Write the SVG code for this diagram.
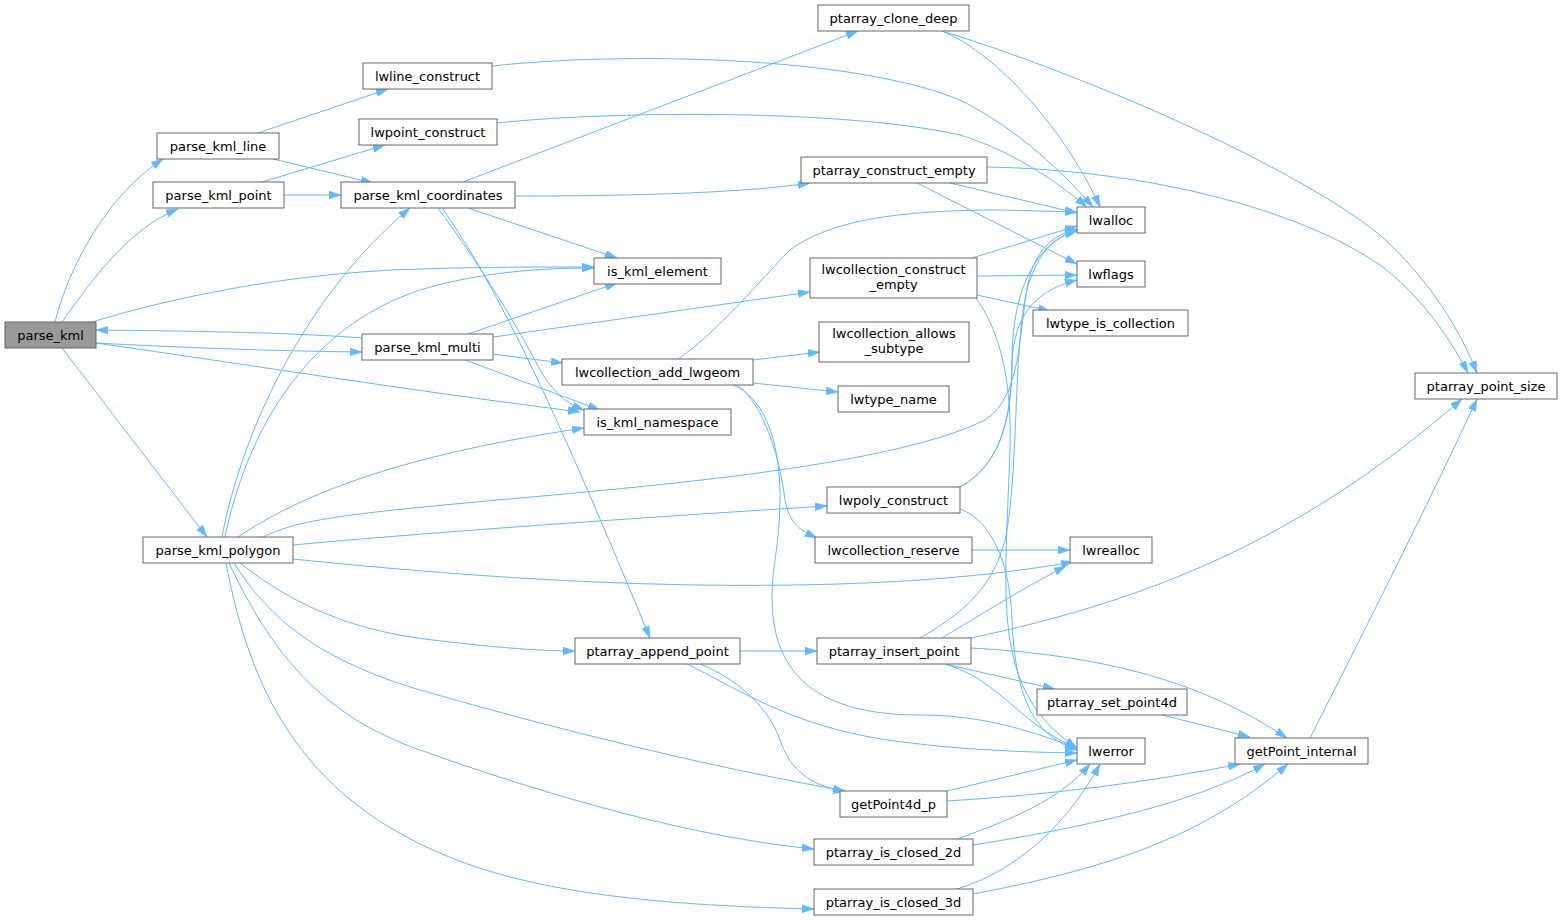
<svg xmlns="http://www.w3.org/2000/svg" width="1567" height="920" viewBox="0 0 1567 920">
<style>
.n rect{fill:#fff;stroke:#666;stroke-width:1}
.n.root rect{fill:#999}
.n text{font-family:"DejaVu Sans","Liberation Sans",sans-serif;font-size:13px;fill:#000;text-anchor:middle}
.e path{fill:none;stroke:#63b8ff;stroke-width:1;marker-end:url(#a)}
</style>
<defs>
<marker id="a" viewBox="0 0 12 8" refX="12" refY="4" markerWidth="12" markerHeight="8" markerUnits="userSpaceOnUse" orient="auto">
<path d="M0,0 L12,4 L0,8 z" fill="#63b8ff" stroke="#63b8ff" stroke-width="0.5"/>
</marker>
</defs>
<rect width="1567" height="920" fill="#fff"/>
<g id="edges" class="e">
<path d="M55,322 C65,280 100,200 163,159"/>
<path d="M62,322 C85,290 125,230 178,209"/>
<path d="M92,322 C180,295 300,272 420,269 C480,267 540,267 594,267"/>
<path d="M96,343 C150,346 260,351 362,352"/>
<path d="M96,343 C250,365 420,392 580,412"/>
<path d="M62,348 L207,537"/>
<path d="M362,338 C300,333 200,331 96,330"/>
<path d="M258,133 L388,89"/>
<path d="M273,159 L373,183"/>
<path d="M262,182 L385,145"/>
<path d="M284,195 L341,195"/>
<path d="M492,66 C620,52 850,55 960,100 C1020,130 1065,175 1093,207"/>
<path d="M497,123 C620,110 850,110 960,135 C1010,150 1055,180 1087,207"/>
<path d="M463,182 L858,31"/>
<path d="M515,196 C650,196 750,192 810,183"/>
<path d="M468,208 L617,258"/>
<path d="M438,208 C480,265 520,330 540,370 C555,395 568,404 584,410"/>
<path d="M442,208 C500,290 560,420 650,638"/>
<path d="M468,334 L617,283"/>
<path d="M493,337 L810,292"/>
<path d="M492,354 L563,363"/>
<path d="M465,360 L600,410"/>
<path d="M222,537 C240,440 300,300 410,208"/>
<path d="M225,537 C245,440 300,330 420,290 C480,272 540,268 594,268"/>
<path d="M238,537 C300,495 400,455 584,428"/>
<path d="M263,537 C300,520 330,515 520,498 C700,482 900,462 985,420 C1025,395 1018,320 1030,275 C1040,245 1055,235 1077,229"/>
<path d="M293,545 C400,535 600,520 827,506"/>
<path d="M293,559 C400,570 550,583 700,585 C850,587 970,580 1073,562"/>
<path d="M240,563 C280,595 340,630 433,640 C500,648 540,651 575,651"/>
<path d="M234,563 C270,620 320,660 420,690 C560,730 700,765 845,791"/>
<path d="M229,563 C270,650 320,715 420,750 C560,800 700,838 814,849"/>
<path d="M226,563 C250,690 300,790 433,850 C520,890 640,905 814,909"/>
<path d="M942,31 C1100,80 1300,170 1380,235 C1430,280 1460,330 1477,373"/>
<path d="M942,31 C990,50 1060,120 1100,207"/>
<path d="M987,167 C1150,170 1300,210 1380,265 C1420,295 1448,335 1468,373"/>
<path d="M950,183 L1077,213"/>
<path d="M917,183 L1077,264"/>
<path d="M972,258 L1077,226"/>
<path d="M977,276 L1077,275"/>
<path d="M977,295 L1050,311"/>
<path d="M975,297 C1000,330 1012,380 1010,450 C1005,600 990,690 1077,748"/>
<path d="M677,360 C720,330 760,280 790,250 C830,220 900,210 1000,210 L1077,212"/>
<path d="M753,360 L820,352"/>
<path d="M753,383 L838,392"/>
<path d="M737,385 C765,405 780,460 785,500 C790,525 800,530 817,538"/>
<path d="M733,385 C770,400 790,460 775,560 C760,660 800,715 920,715 C990,715 1040,735 1077,748"/>
<path d="M960,487 C1000,465 1012,420 1012,360 C1012,300 1030,245 1077,230"/>
<path d="M960,487 C1000,465 1012,420 1012,360 C1015,320 1030,292 1077,280"/>
<path d="M960,509 C990,520 1010,560 1012,620 C1015,690 1030,735 1077,750"/>
<path d="M972,550 L1070,550"/>
<path d="M740,651 L817,651"/>
<path d="M687,664 C740,690 790,725 887,740 C960,750 1020,752 1077,753"/>
<path d="M700,664 C740,680 770,710 780,740 C790,770 810,785 845,792"/>
<path d="M920,638 C960,615 992,590 1005,540 C1020,470 1012,330 1030,280 C1042,248 1055,237 1077,231"/>
<path d="M942,638 C980,615 1020,590 1066,566"/>
<path d="M971,638 C1150,600 1300,540 1462,399"/>
<path d="M945,664 C1000,680 1020,725 1077,748"/>
<path d="M945,664 L1055,689"/>
<path d="M971,648 C1100,655 1200,680 1287,738"/>
<path d="M947,791 L1077,760"/>
<path d="M947,801 C1050,795 1150,782 1240,764"/>
<path d="M957,839 C1010,820 1060,800 1090,764"/>
<path d="M973,845 C1100,825 1200,800 1265,764"/>
<path d="M957,889 C1020,870 1070,820 1100,764"/>
<path d="M973,894 C1100,870 1200,840 1288,764"/>
<path d="M1162,715 L1250,737"/>
<path d="M1310,738 C1370,620 1430,500 1477,399"/>
</g>
<g id="n_parse_kml" class="n root"><rect x="5" y="322" width="91" height="26"/><text x="50.5" y="339.5">parse_kml</text></g>
<g id="n_parse_kml_line" class="n"><rect x="157" y="133" width="122" height="26"/><text x="218" y="150.5">parse_kml_line</text></g>
<g id="n_parse_kml_point" class="n"><rect x="153" y="182" width="131" height="26"/><text x="218.5" y="199.5">parse_kml_point</text></g>
<g id="n_lwline_construct" class="n"><rect x="363" y="63" width="129" height="26"/><text x="427.5" y="80.5">lwline_construct</text></g>
<g id="n_lwpoint_construct" class="n"><rect x="359" y="119" width="138" height="26"/><text x="428" y="136.5">lwpoint_construct</text></g>
<g id="n_parse_kml_coordinates" class="n"><rect x="341" y="182" width="174" height="26"/><text x="428" y="199.5">parse_kml_coordinates</text></g>
<g id="n_parse_kml_multi" class="n"><rect x="362" y="334" width="131" height="26"/><text x="427.5" y="351.5">parse_kml_multi</text></g>
<g id="n_parse_kml_polygon" class="n"><rect x="143" y="537" width="150" height="26"/><text x="218" y="554.5">parse_kml_polygon</text></g>
<g id="n_ptarray_clone_deep" class="n"><rect x="818" y="5" width="151" height="26"/><text x="893.5" y="22.5">ptarray_clone_deep</text></g>
<g id="n_ptarray_construct_empty" class="n"><rect x="801" y="157" width="186" height="26"/><text x="894" y="174.5">ptarray_construct_empty</text></g>
<g id="n_is_kml_element" class="n"><rect x="594" y="258" width="127" height="26"/><text x="657.5" y="275.5">is_kml_element</text></g>
<g id="n_lwcollection_construct_empty" class="n"><rect x="810" y="258" width="167" height="40"/><text x="893.5" y="273.5">lwcollection_construct</text><text x="893.5" y="289">_empty</text></g>
<g id="n_lwcollection_allows_subtype" class="n"><rect x="819" y="322" width="150" height="40"/><text x="894" y="337.5">lwcollection_allows</text><text x="894" y="353">_subtype</text></g>
<g id="n_lwcollection_add_lwgeom" class="n"><rect x="562" y="359" width="191" height="26"/><text x="657.5" y="376.5">lwcollection_add_lwgeom</text></g>
<g id="n_lwtype_name" class="n"><rect x="838" y="386" width="111" height="26"/><text x="893.5" y="403.5">lwtype_name</text></g>
<g id="n_is_kml_namespace" class="n"><rect x="584" y="409" width="147" height="26"/><text x="657.5" y="426.5">is_kml_namespace</text></g>
<g id="n_lwpoly_construct" class="n"><rect x="827" y="487" width="133" height="26"/><text x="893.5" y="504.5">lwpoly_construct</text></g>
<g id="n_lwcollection_reserve" class="n"><rect x="815" y="537" width="157" height="26"/><text x="893.5" y="554.5">lwcollection_reserve</text></g>
<g id="n_ptarray_append_point" class="n"><rect x="575" y="638" width="165" height="26"/><text x="657.5" y="655.5">ptarray_append_point</text></g>
<g id="n_ptarray_insert_point" class="n"><rect x="817" y="638" width="154" height="26"/><text x="894" y="655.5">ptarray_insert_point</text></g>
<g id="n_getPoint4d_p" class="n"><rect x="840" y="791" width="107" height="26"/><text x="893.5" y="808.5">getPoint4d_p</text></g>
<g id="n_ptarray_is_closed_2d" class="n"><rect x="814" y="839" width="159" height="26"/><text x="893.5" y="856.5">ptarray_is_closed_2d</text></g>
<g id="n_ptarray_is_closed_3d" class="n"><rect x="814" y="889" width="159" height="26"/><text x="893.5" y="906.5">ptarray_is_closed_3d</text></g>
<g id="n_lwalloc" class="n"><rect x="1077" y="207" width="68" height="26"/><text x="1111" y="224.5">lwalloc</text></g>
<g id="n_lwflags" class="n"><rect x="1077" y="261" width="68" height="26"/><text x="1111" y="278.5">lwflags</text></g>
<g id="n_lwtype_is_collection" class="n"><rect x="1033" y="310" width="155" height="26"/><text x="1110.5" y="327.5">lwtype_is_collection</text></g>
<g id="n_ptarray_point_size" class="n"><rect x="1415" y="373" width="142" height="26"/><text x="1486" y="390.5">ptarray_point_size</text></g>
<g id="n_lwrealloc" class="n"><rect x="1070" y="537" width="82" height="26"/><text x="1111" y="554.5">lwrealloc</text></g>
<g id="n_ptarray_set_point4d" class="n"><rect x="1037" y="689" width="150" height="26"/><text x="1112" y="706.5">ptarray_set_point4d</text></g>
<g id="n_lwerror" class="n"><rect x="1077" y="738" width="68" height="26"/><text x="1111" y="755.5">lwerror</text></g>
<g id="n_getPoint_internal" class="n"><rect x="1235" y="738" width="133" height="26"/><text x="1301.5" y="755.5">getPoint_internal</text></g>
</svg>
